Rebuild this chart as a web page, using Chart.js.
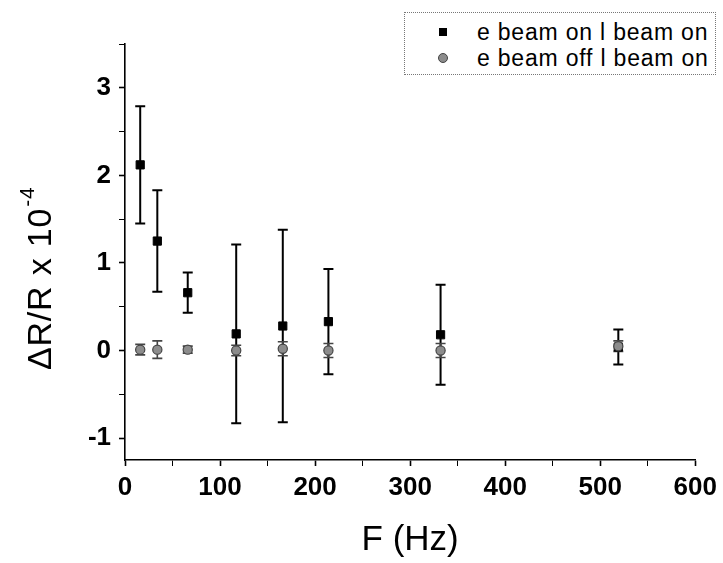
<!DOCTYPE html>
<html>
<head>
<meta charset="utf-8">
<script src="https://cdn.jsdelivr.net/npm/chart.js@4"></script>
<style>
  html, body { margin: 0; padding: 0; background: #fff; }
  #wrap { position: relative; width: 723px; height: 563px; }
  #legend { position: absolute; left: 404px; top: 12px; width: 312px; height: 63px;
            border: 1px dotted #777; background: #fff; box-sizing: border-box;
            font-family: "Liberation Sans", Arial, sans-serif; font-size: 23px; letter-spacing: 0.8px; color: #000; }
  .row { position: absolute; left: 0; height: 26px; line-height: 26px; white-space: nowrap; }
  .mk { position: absolute; left: 34px; }
  .txt { position: absolute; left: 72px; top: 0; }
</style>
</head>
<body>
<div id="wrap">
  <canvas id="c" width="723" height="563"></canvas>
  <div id="legend"></div>
</div>
<script>
// ---- data ----
const freq = [16, 34, 66, 117, 166, 214, 332, 519];
const onValues  = [2.12, 1.25, 0.66, 0.19, 0.28, 0.33, 0.18, 0.04];
const onErrors  = [0.67, 0.58, 0.23, 1.02, 1.10, 0.60, 0.57, 0.20];
const offValues = [0.01, 0.01, 0.01, 0.00, 0.02, 0.00, 0.00, 0.05];
const offErrors = [0.06, 0.10, 0.04, 0.06, 0.08, 0.08, 0.08, 0.06];
const seriesLabels = ['e beam on l beam on', 'e beam off l beam on'];
const xTickLabels = [0, 100, 200, 300, 400, 500, 600];
const yTickLabels = [-1, 0, 1, 2, 3];
const yMinorTicks = [-0.5, 0.5, 1.5, 2.5, 3.5];
const xTitle = 'F (Hz)';
const yTitleMain = 'ΔR/R x 10';
const yTitleSup = '-4';

const FONT = '"Liberation Sans", Arial, sans-serif';

const errorBarPlugin = {
  id: 'errorBars',
  beforeDatasetsDraw(chart) {
    const { ctx, scales: { x, y } } = chart;
    const sets = [
      { vals: onValues, errs: onErrors, color: '#000', width: 2 },
      { vals: offValues, errs: offErrors, color: '#444', width: 1.6 }
    ];
    ctx.save();
    sets.forEach(s => {
      ctx.strokeStyle = s.color;
      ctx.lineWidth = s.width;
      freq.forEach((f, i) => {
        const px = x.getPixelForValue(f);
        const top = y.getPixelForValue(s.vals[i] + s.errs[i]);
        const bot = y.getPixelForValue(s.vals[i] - s.errs[i]);
        ctx.beginPath();
        ctx.moveTo(px, top); ctx.lineTo(px, bot);
        ctx.moveTo(px - 5, top); ctx.lineTo(px + 5, top);
        ctx.moveTo(px - 5, bot); ctx.lineTo(px + 5, bot);
        ctx.stroke();
      });
    });
    ctx.restore();
  }
};

const yTitlePlugin = {
  id: 'yTitle',
  afterDraw(chart) {
    const { ctx, chartArea } = chart;
    ctx.save();
    ctx.translate(51, chartArea.bottom - 90);
    ctx.rotate(-Math.PI / 2);
    ctx.fillStyle = '#000';
    ctx.textAlign = 'left';
    ctx.textBaseline = 'alphabetic';
    ctx.font = '34px ' + FONT;
    try { ctx.letterSpacing = '0.8px'; } catch (e) {}
    ctx.fillText(yTitleMain, 0, 0);
    const w = ctx.measureText(yTitleMain).width;
    ctx.font = '21px ' + FONT;
    ctx.fillText(yTitleSup, w + 1, -17);
    ctx.restore();
  }
};

const isNear = (v, arr) => arr.some(a => Math.abs(a - v) < 1e-6);

new Chart(document.getElementById('c'), {
  type: 'scatter',
  data: {
    datasets: [
      {
        label: seriesLabels[0],
        data: freq.map((f, i) => ({ x: f, y: onValues[i] })),
        pointStyle: 'rect', pointRadius: 5.8, pointHoverRadius: 5.8,
        backgroundColor: '#000', borderColor: '#000', borderWidth: 1, order: 1
      },
      {
        label: seriesLabels[1],
        data: freq.map((f, i) => ({ x: f, y: offValues[i] })),
        pointStyle: 'circle', pointRadius: 4.6, pointHoverRadius: 4.6,
        backgroundColor: '#8c8c8c', borderColor: '#444', borderWidth: 1.2, order: 0
      }
    ]
  },
  options: {
    responsive: false,
    animation: false,
    events: [],
    layout: { padding: { left: 0, top: 44, right: 26, bottom: 0 } },
    plugins: { legend: { display: false }, tooltip: { enabled: false } },
    scales: {
      x: {
        type: 'linear', min: 0, max: 600,
        afterFit(s) { s.height = 103; },
        ticks: {
          stepSize: 50, color: '#000', padding: 6, maxRotation: 0, autoSkip: false,
          font: { family: FONT, size: 26, weight: 'bold' },
          callback: v => (isNear(v, xTickLabels) ? String(Math.round(v)) : '')
        },
        grid: { drawOnChartArea: false, tickLength: 6, tickColor: '#000',
                tickWidth: c => (c.tick && isNear(c.tick.value, xTickLabels) ? 1.6 : 1) },
        border: { color: '#000', width: 1.6 },
        title: { display: true, text: xTitle, color: '#000', font: { family: FONT, size: 35 }, padding: { top: 0, bottom: 2 } }
      },
      y: {
        type: 'linear', min: -1.25, max: 3.5,
        afterFit(s) { s.width = 125; },
        afterBuildTicks(s) {
          s.ticks = yTickLabels.concat(yMinorTicks).sort((a, b) => a - b).map(v => ({ value: v }));
        },
        ticks: {
          color: '#000', padding: 8, autoSkip: false,
          font: { family: FONT, size: 26, weight: 'bold' },
          callback: v => (isNear(v, yTickLabels) ? String(Math.round(v)) : '')
        },
        grid: { drawOnChartArea: false, tickLength: 6, tickColor: '#000',
                tickWidth: c => (c.tick && isNear(c.tick.value, yTickLabels) ? 1.6 : 1) },
        border: { color: '#000', width: 1.6 },
        title: { display: false }
      }
    }
  },
  plugins: [errorBarPlugin, yTitlePlugin]
});

// HTML legend built from the series labels
const legend = document.getElementById('legend');
seriesLabels.forEach((lab, i) => {
  const row = document.createElement('div');
  row.className = 'row';
  row.style.top = (i === 0 ? 6 : 32) + 'px';
  const mk = document.createElement('div');
  mk.className = 'mk';
  if (i === 0) {
    Object.assign(mk.style, { width: '8px', height: '8px', background: '#000', top: '9px' });
  } else {
    Object.assign(mk.style, { width: '8px', height: '8px', background: '#8c8c8c', border: '1px solid #444', borderRadius: '50%', top: '8px', left: '33px' });
  }
  const tx = document.createElement('span');
  tx.className = 'txt';
  tx.textContent = lab;
  row.appendChild(mk); row.appendChild(tx);
  legend.appendChild(row);
});
</script>
</body>
</html>
